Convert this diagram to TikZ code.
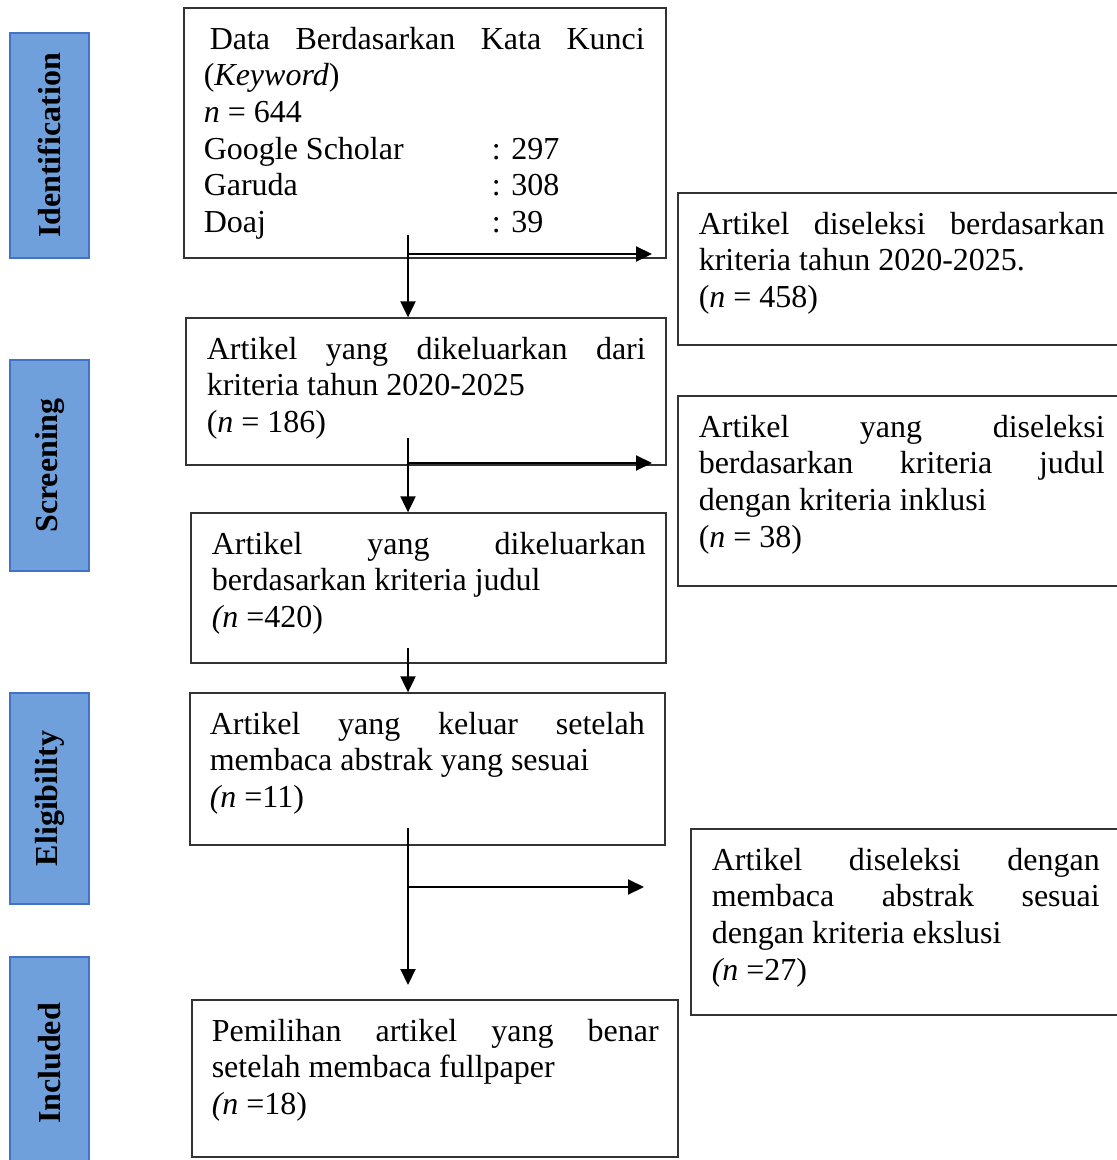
\documentclass[tikz,border=0pt]{standalone}
\usepackage{fontspec}
\setmainfont{Liberation Serif}
\usetikzlibrary{arrows.meta,fit,positioning,calc}
\definecolor{phasefill}{RGB}{111,160,220}
\definecolor{phaseline}{RGB}{68,114,196}
\setlength{\parindent}{0pt}
\hyphenpenalty=10000
\exhyphenpenalty=10000
\tolerance=10000
\tikzstyle{box}=[draw=black!80, line width=0.65pt, inner sep=0pt]
\tikzstyle{phase}=[draw=phaseline, fill=phasefill, line width=0.65pt, inner sep=0pt]
\tikzstyle{phaselab}=[rotate=90, font=\fontsize{16}{18}\selectfont\bfseries]
\tikzstyle{flow}=[line width=1pt, -{Triangle[length=8pt,width=7.5pt]}]
\tikzset{txt/.style={anchor=north west, inner sep=0pt, text width=#1,
  align=justify, font=\fontsize{16}{18.3}\selectfont}}
\newcommand{\tabto}[1]{\makebox[144pt][l]{#1}}

\begin{document}
\begin{tikzpicture}[x=0.5pt, y=-0.5pt]
        \useasboundingbox (0,0) rectangle (1116,1160);
        % phases
        \node[phase, fit={(10,33) (89,258)}] (ident) {};
        \node[phaselab] at (ident.center) {Identification};
        \node[phase, fit={(10,360) (89,571)}] (screen) {};
        \node[phaselab] at (screen.center) {Screening};
        \node[phase, fit={(10,693) (89,904)}] (elig) {};
        \node[phaselab] at (elig.center) {Eligibility};
        \node[phase, fit={(10,957) (89,1170)}] (incl) {};
        \node[phaselab] at (incl.center) {Included};
        %
        % main column
        \node[box, fit={(184,8) (666,258)}] (b1) {};
        \node[txt=220.5pt] at ([shift={(20,16)}]b1.north west)
          {\strut\hspace*{3pt}Data Berdasarkan Kata Kunci\linebreak
           (\textit{Keyword})\\
           \textit{n} = 644\\
           \tabto{Google Scholar}: 297\\
           \tabto{Garuda}: 308\\
           \tabto{Doaj}: 39};
        \node[box, fit={(186,318) (666,465)}] (b2) {};
        \node[txt=219.5pt] at ([shift={(21,16)}]b2.north west)
          {\strut Artikel yang dikeluarkan dari\linebreak
           kriteria tahun 2020-2025\\
           (\textit{n} = 186)};
        \node[box, fit={(191,513) (666,663)}] (b3) {};
        \node[txt=217pt] at ([shift={(21,16)}]b3.north west)
          {\strut Artikel yang dikeluarkan\linebreak
           berdasarkan kriteria judul\\
           \textit{(n} =420)};
        \node[box, fit={(190,693) (665,845)}] (b4) {};
        \node[txt=217.5pt] at ([shift={(20,16)}]b4.north west)
          {\strut Artikel yang keluar setelah\linebreak
           membaca abstrak yang sesuai\\
           \textit{(n} =11)};
        \node[box, fit={(192,1000) (678,1157)}] (b5) {};
        \node[txt=223.5pt] at ([shift={(20,16)}]b5.north west)
          {\strut Pemilihan artikel yang benar\linebreak
           setelah membaca fullpaper\\
           \textit{(n} =18)};
        %
        % excluded column
        \node[box, fit={(678,193) (1130,345)}] (r1) {};
        \node[txt=203pt] at ([shift={(21,16)}]r1.north west)
          {\strut Artikel diseleksi berdasarkan\linebreak
           kriteria tahun 2020-2025.\\
           (\textit{n} = 458)};
        \node[box, fit={(678,396) (1130,586)}] (r2) {};
        \node[txt=203pt] at ([shift={(21,16)}]r2.north west)
          {\strut Artikel yang diseleksi\linebreak
           berdasarkan kriteria judul\linebreak
           dengan kriteria inklusi\\
           (\textit{n} = 38)};
        \node[box, fit={(691,829) (1130,1015)}] (r3) {};
        \node[txt=194pt] at ([shift={(21,16)}]r3.north west)
          {\strut Artikel diseleksi dengan\linebreak
           membaca abstrak sesuai\linebreak
           dengan kriteria ekslusi\\
           \textit{(n} =27)};
        %
        % connectors
        \coordinate (s1) at (408,235);
        \coordinate (h1) at (408,254);
        \coordinate (e1) at (652,254);
        \coordinate (s2) at (408,438);
        \coordinate (h2) at (408,463);
        \coordinate (e2) at (652,463);
        \coordinate (s3) at (408,648);
        \coordinate (s4) at (408,828);
        \coordinate (h4) at (408,887);
        \coordinate (e4) at (644,887);
        \coordinate (e5) at (408,985);
        \draw[flow] (s1) -- (s1 |- b2.north);
        \draw[flow] (h1) -- (e1);
        \draw[flow] (s2) -- (s2 |- b3.north);
        \draw[flow] (h2) -- (e2);
        \draw[flow] (s3) -- (s3 |- b4.north);
        \draw[flow] (s4) -- (e5);
        \draw[flow] (h4) -- (e4);
\end{tikzpicture}
\end{document}
